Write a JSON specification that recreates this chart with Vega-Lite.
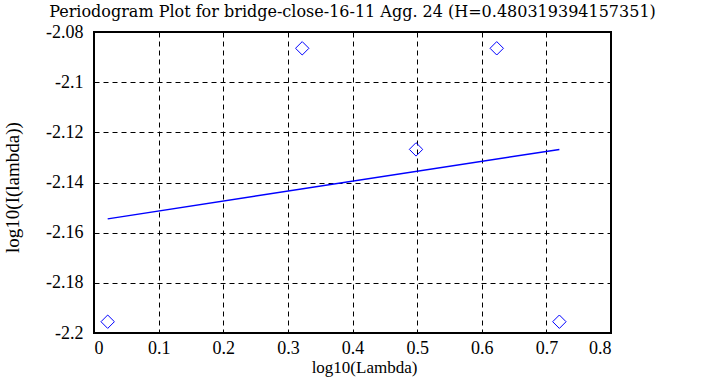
{
  "$schema": "https://vega.github.io/schema/vega-lite/v6.json",
  "width": 517,
  "height": 301,
  "autosize": "none",
  "padding": {"left": 94, "top": 32, "right": 94, "bottom": 54},
  "background": "white",
  "title": {
    "text": "Periodogram Plot for bridge-close-16-11 Agg. 24 (H=0.480319394157351)",
    "font": "DejaVu Serif",
    "fontSize": 16,
    "fontWeight": "normal",
    "color": "black",
    "offset": 3
  },
  "config": {
    "view": {"stroke": "black", "strokeWidth": 2},
    "axis": {
      "labelFont": "Liberation Serif",
      "labelFontSize": 18,
      "labelColor": "black",
      "titleFont": "Liberation Serif",
      "titleFontSize": 17,
      "titleFontWeight": "normal",
      "titleColor": "black",
      "domain": false,
      "ticks": false,
      "grid": true,
      "gridColor": "black",
      "gridDash": [5, 4],
      "gridOpacity": 1,
      "gridWidth": 1
    }
  },
  "datasets": {
    "pts": [
      {"x": 0.0212, "y": -2.1955},
      {"x": 0.3222, "y": -2.0865},
      {"x": 0.4983, "y": -2.1268},
      {"x": 0.6232, "y": -2.0865},
      {"x": 0.7201, "y": -2.1955}
    ],
    "fit": [
      {"x": 0.0212, "y": -2.1545},
      {"x": 0.7201, "y": -2.1268}
    ]
  },
  "layer": [
    {
      "data": {"name": "fit"},
      "mark": {"type": "line", "color": "#0000ff", "strokeWidth": 1.5},
      "encoding": {
        "x": {
          "field": "x", "type": "quantitative",
          "scale": {"domain": [0, 0.8], "nice": false, "zero": false},
          "axis": {"values": [0, 0.1, 0.2, 0.3, 0.4, 0.5, 0.6, 0.7, 0.8], "title": "log10(Lambda)", "labelFont": "Liberation Serif", "labelFontSize": 18, "labelPadding": 6, "titlePadding": 2, "titleFontSize": 17, "titleX": 270, "labelExpr": "replace(format(datum.value, '.1~f'), '\u2212', '-')"}
        },
        "y": {
          "field": "y", "type": "quantitative",
          "scale": {"domain": [-2.2, -2.08], "nice": false, "zero": false},
          "axis": {"values": [-2.2, -2.18, -2.16, -2.14, -2.12, -2.1, -2.08], "title": "log10(I(lambda))", "labelFont": "Liberation Serif", "labelFontSize": 18, "labelPadding": 11, "titlePadding": 23, "titleFontSize": 19, "titleY": 155, "labelExpr": "replace(format(datum.value, '.2~f'), '\u2212', '-')"}
        }
      }
    },
    {
      "data": {"name": "pts"},
      "mark": {"type": "point", "shape": "diamond", "filled": false, "color": "#0000ff", "size": 180, "strokeWidth": 1, "opacity": 1},
      "encoding": {
        "x": {"field": "x", "type": "quantitative"},
        "y": {"field": "y", "type": "quantitative"}
      }
    }
  ]
}
